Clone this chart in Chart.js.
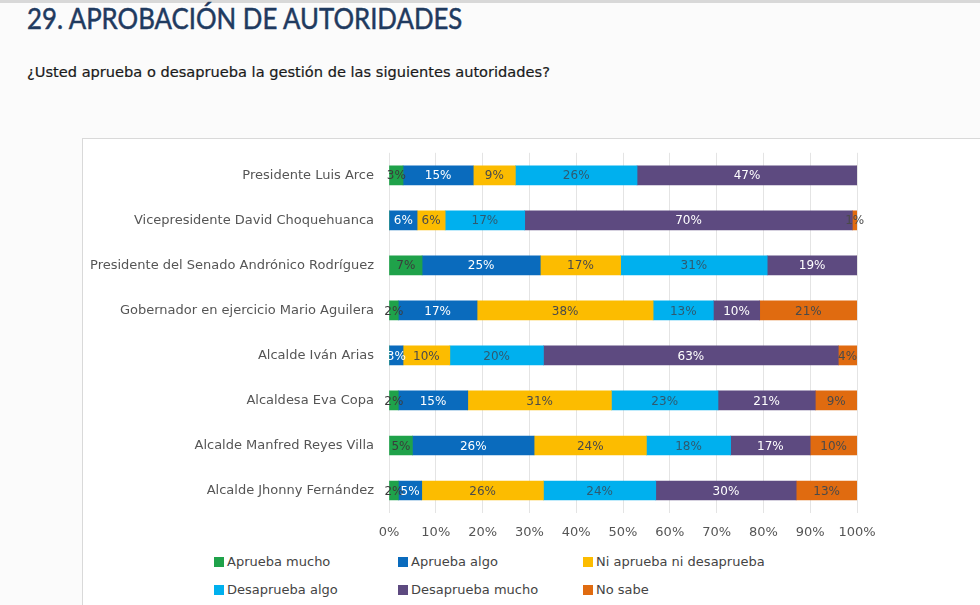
<!DOCTYPE html>
<html>
<head>
<meta charset="utf-8">
<script src="https://cdn.jsdelivr.net/npm/chart.js@4"></script>
<style>
  body { margin: 0; background: #fbfbfb; width: 980px; height: 605px; overflow: hidden; position: relative; font-family: "DejaVu Sans", sans-serif; }
  #topbar { position: absolute; left: 0; top: 0; width: 980px; height: 3px; background: #d8d8d8; }
  #title { position: absolute; left: 27px; top: 1px; font-family: Lato, sans-serif; font-size: 28px; color: #1f3a5f; white-space: nowrap; -webkit-text-stroke: 0.5px #1f3a5f; transform: scaleX(0.92); transform-origin: left top; }
  #subtitle { position: absolute; left: 27px; top: 63px; font-size: 14.6px; color: #1a1a1a; white-space: nowrap; -webkit-text-stroke: 0.2px #1a1a1a; }
  #box { position: absolute; left: 82px; top: 138px; width: 910px; height: 480px; border: 1px solid #d9d9d9; background: #fff; }
  #wrap { position: absolute; left: 0; top: -9px; width: 898px; height: 408px; }
  #legend { position: absolute; left: 0; top: 412px; width: 898px; height: 60px; }
  .item { position: absolute; font-size: 13px; color: #444; white-space: nowrap; }
  .item span { display: inline-block; width: 10px; height: 10px; margin-right: 3px; vertical-align: -1px; }
</style>
</head>
<body>
<div id="topbar"></div>
<div id="title">29. APROBACIÓN DE AUTORIDADES</div>
<div id="subtitle">¿Usted aprueba o desaprueba la gestión de las siguientes autoridades?</div>
<div id="box">
  <div id="wrap"><canvas id="myChart"></canvas></div>
  <div id="legend"></div>
</div>
<script>
const autoridades = [
  "Presidente Luis Arce",
  "Vicepresidente David Choquehuanca",
  "Presidente del Senado Andrónico Rodríguez",
  "Gobernador en ejercicio Mario Aguilera",
  "Alcalde Iván Arias",
  "Alcaldesa Eva Copa",
  "Alcalde Manfred Reyes Villa",
  "Alcalde Jhonny Fernández"
];
const apruebaMucho     = [3, 0, 7, 2, 0, 2, 5, 2];
const apruebaAlgo      = [15, 6, 25, 17, 3, 15, 26, 5];
const niApruebaNi      = [9, 6, 17, 38, 10, 31, 24, 26];
const desapruebaAlgo   = [26, 17, 31, 13, 20, 23, 18, 24];
const desapruebaMucho  = [47, 70, 19, 10, 63, 21, 17, 30];
const noSabe           = [0, 1, 0, 21, 4, 9, 10, 13];
const xTicks = [0, 10, 20, 30, 40, 50, 60, 70, 80, 90, 100];

const series = [
  { label: "Aprueba mucho", data: apruebaMucho, color: "#1fa24a", text: "#3b3b3b" },
  { label: "Aprueba algo", data: apruebaAlgo, color: "#0a6bbd", text: "#ffffff" },
  { label: "Ni aprueba ni desaprueba", data: niApruebaNi, color: "#fcbc00", text: "#4a4a4a" },
  { label: "Desaprueba algo", data: desapruebaAlgo, color: "#00b0ee", text: "#2f5a70" },
  { label: "Desaprueba mucho", data: desapruebaMucho, color: "#5d4a80", text: "#ffffff" },
  { label: "No sabe", data: noSabe, color: "#e06b10", text: "#4a4a4a" }
];

// each bar is shown as 100%, so scale rows by their total
const totals = autoridades.map((_, i) => series.reduce((s, d) => s + d.data[i], 0));

const segLabels = {
  id: "segLabels",
  afterDatasetsDraw(chart) {
    const ctx = chart.ctx;
    ctx.save();
    ctx.font = "12px 'DejaVu Sans'";
    ctx.textAlign = "center";
    ctx.textBaseline = "middle";
    chart.data.datasets.forEach((ds, di) => {
      const meta = chart.getDatasetMeta(di);
      meta.data.forEach((bar, i) => {
        const v = series[di].data[i];
        if (!v) return;
        ctx.fillStyle = series[di].text;
        ctx.fillText(v + "%", (bar.x + bar.base) / 2, bar.y + 1);
      });
    });
    ctx.restore();
  }
};

initChart();
buildLegend();

function initChart() {
  const ctx = document.getElementById("myChart").getContext("2d");
  window.chart = new Chart(ctx, {
    type: "bar",
    data: {
      labels: autoridades,
      datasets: series.map((s) => ({
        label: s.label,
        data: s.data.map((v, i) => v / totals[i] * 100),
        backgroundColor: s.color,
        borderWidth: 0,
        barThickness: 19
      }))
    },
    options: {
      indexAxis: "y",
      responsive: true,
      maintainAspectRatio: false,
      animation: false,
      layout: { padding: { top: 3, right: 124, bottom: 0, left: 0 } },
      plugins: { legend: { display: false }, tooltip: { enabled: false } },
      scales: {
        x: {
          stacked: true,
          min: 0,
          max: 100,
          afterBuildTicks: (scale) => { scale.ticks = xTicks.map((v) => ({ value: v })); },
          afterFit: (scale) => { scale.height = 25; },
          grid: { color: "#e4e4e4", drawTicks: false },
          border: { display: false },
          ticks: {
            padding: 12,
            color: "#555",
            font: { family: "DejaVu Sans", size: 13 },
            callback: (v) => v + "%"
          }
        },
        y: {
          stacked: true,
          afterFit: (scale) => { scale.width = 306; },
          grid: { display: false, drawTicks: false },
          border: { display: false },
          ticks: {
            padding: 15,
            color: "#555",
            font: { family: "DejaVu Sans", size: 13 }
          }
        }
      }
    },
    plugins: [segLabels]
  });
}

function buildLegend() {
  const cols = [131, 315, 500];
  const rows = [3, 31];
  const legend = document.getElementById("legend");
  series.forEach((s, i) => {
    const d = document.createElement("div");
    d.className = "item";
    d.style.left = cols[i % 3] + "px";
    d.style.top = rows[Math.floor(i / 3)] + "px";
    d.innerHTML = '<span style="background:' + s.color + '"></span>' + s.label;
    legend.appendChild(d);
  });
}
</script>
</body>
</html>
